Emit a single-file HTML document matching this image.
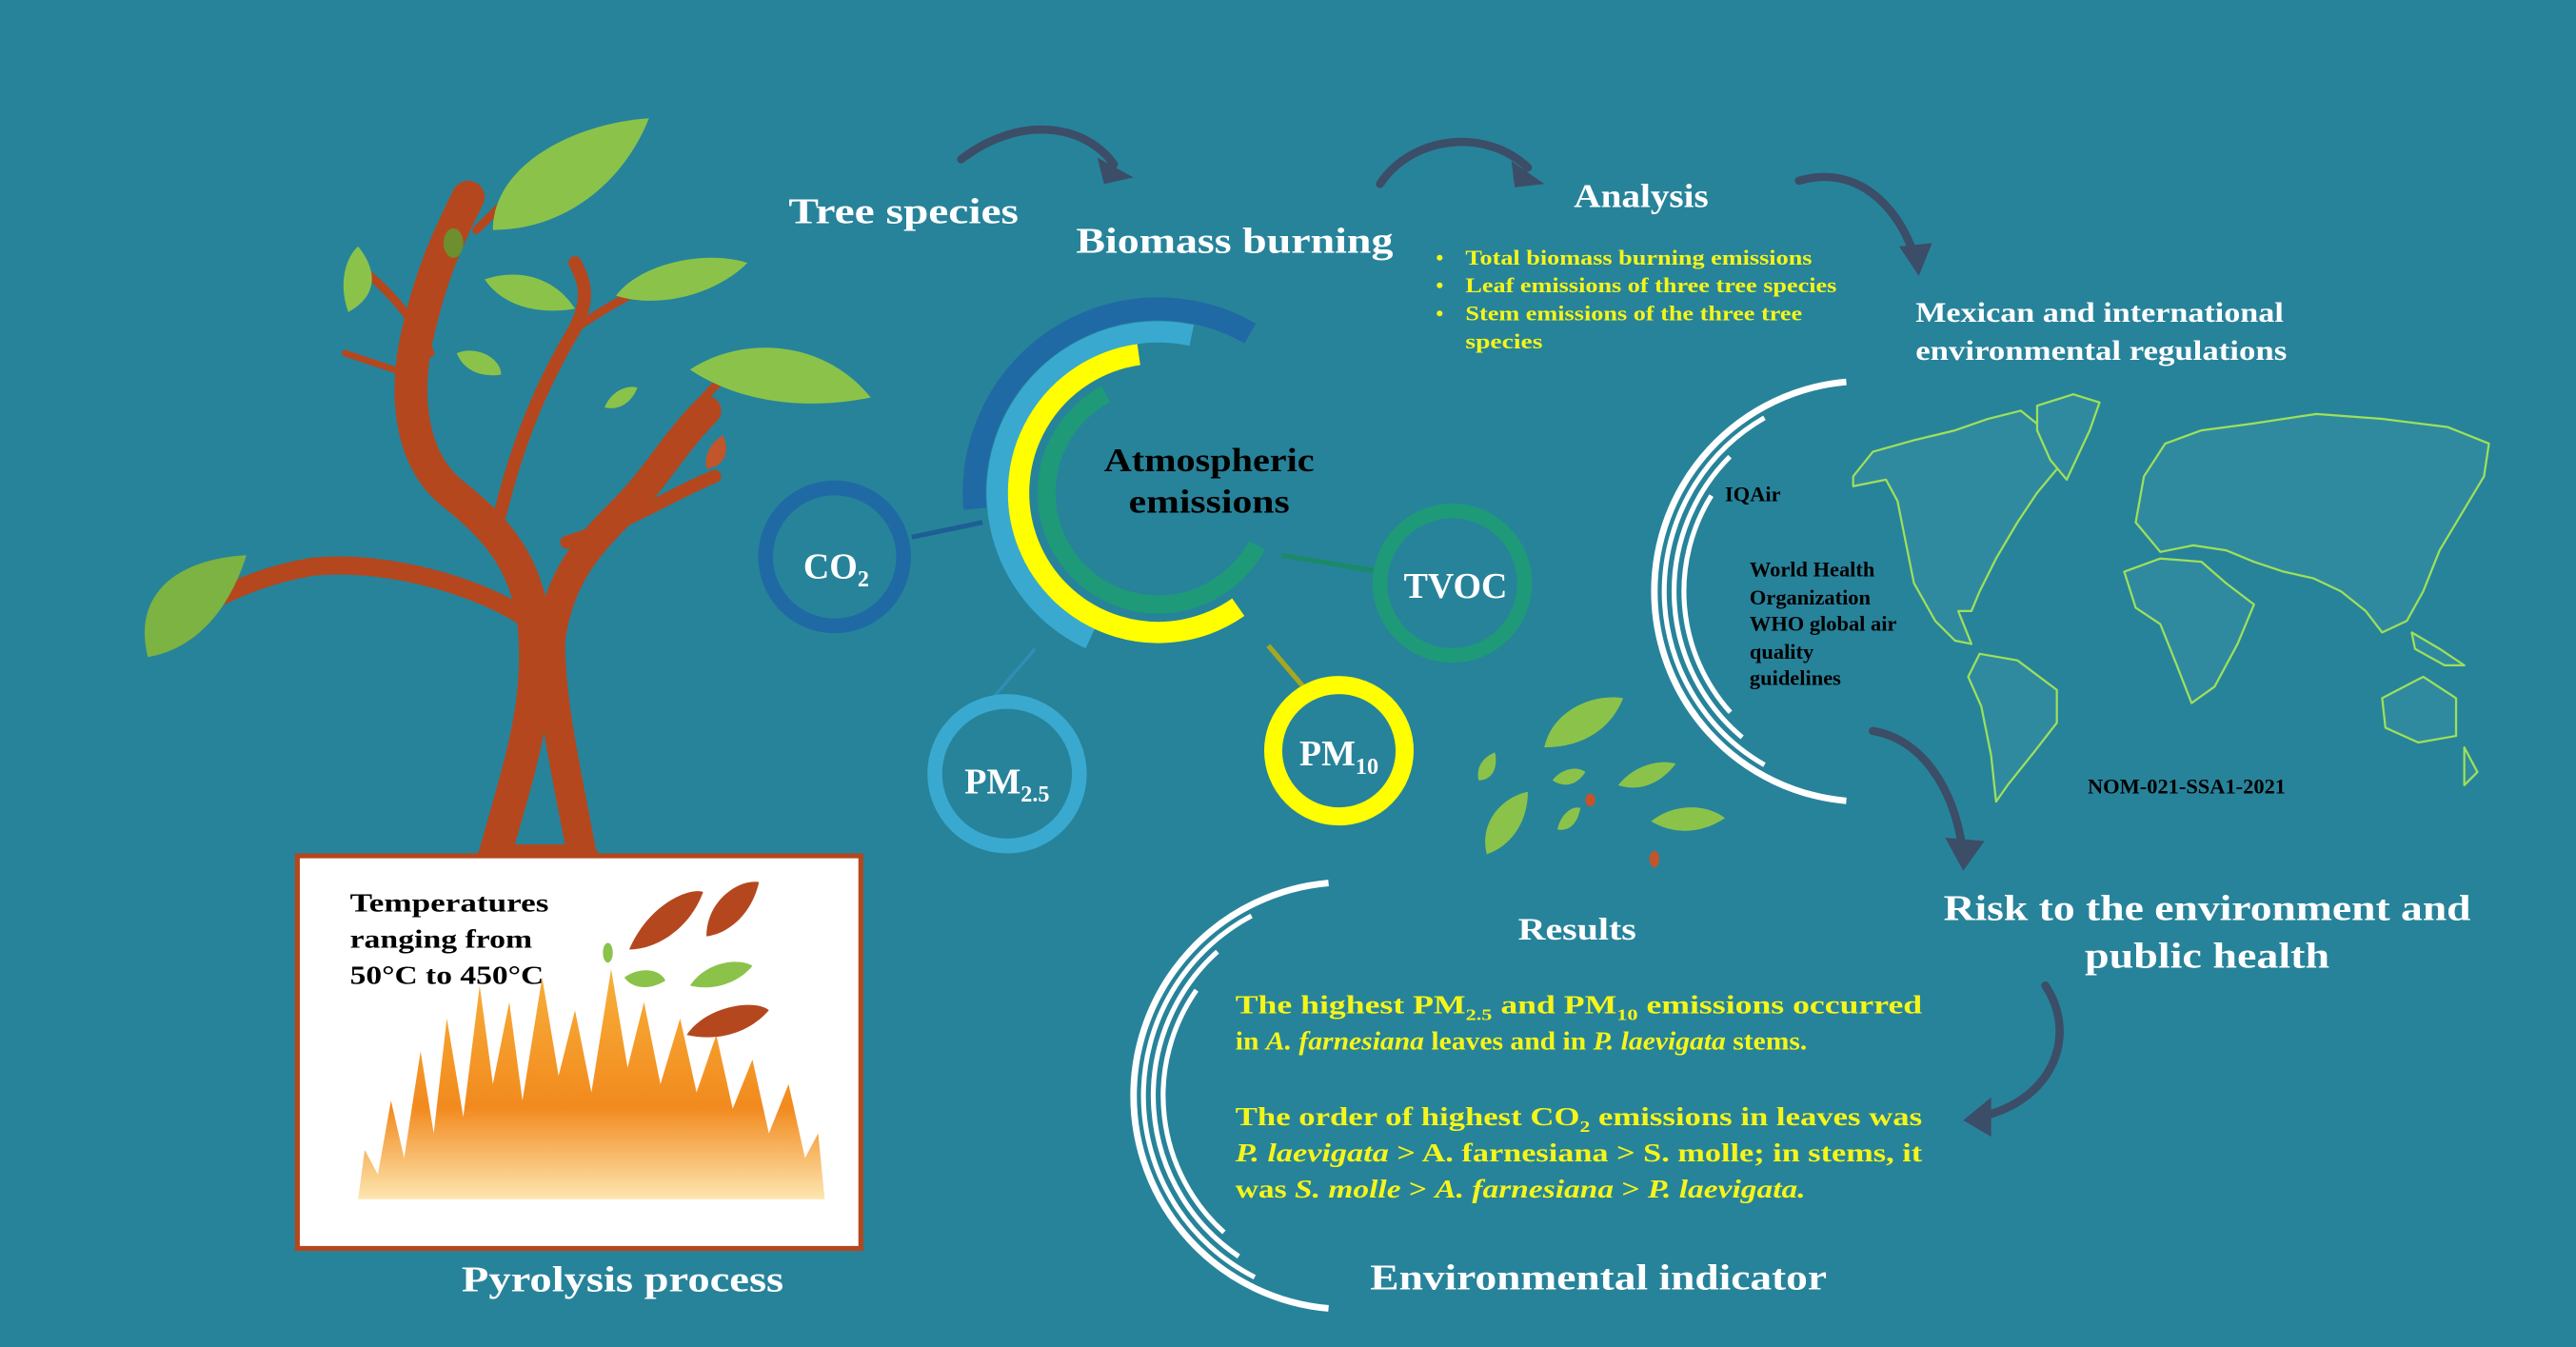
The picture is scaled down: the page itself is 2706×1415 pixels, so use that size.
<!DOCTYPE html>
<html><head><meta charset="utf-8"><style>
html,body{margin:0;padding:0;background:#27839a;}
svg{display:block;}
text{font-family:"Liberation Serif",serif;font-weight:bold;}
</style></head><body>
<svg id="s" width="2706" height="1415" viewBox="0 0 1568 820" preserveAspectRatio="none" xmlns="http://www.w3.org/2000/svg">
<defs>
<linearGradient id="fl" x1="0" y1="0" x2="0" y2="1">
<stop offset="0" stop-color="#f7b03a"/><stop offset="0.6" stop-color="#f28a1e"/><stop offset="1" stop-color="#fde6b0"/>
</linearGradient>
</defs>
<rect width="1568" height="820" fill="#27839a"/>

<g stroke="#b5471e" fill="none" stroke-linecap="round">
<path d="M300 525 C315 470 330 430 325 380 C320 340 300 320 275 300 C250 280 245 240 255 200 C262 170 270 150 285 120" stroke-width="20"/>
<path d="M355 525 C345 470 335 430 335 390 C340 350 360 330 380 310 C400 290 410 270 430 250" stroke-width="18"/>
<path d="M325 380 C300 360 240 340 190 345 C160 350 140 360 120 370" stroke-width="11"/>
<path d="M300 330 C310 290 320 250 350 200 C360 180 355 170 350 160" stroke-width="8"/>
<path d="M350 200 C380 180 400 170 420 165" stroke-width="5"/>
<path d="M262 215 C250 190 230 170 215 160" stroke-width="5"/>
<path d="M290 140 C310 120 330 100 345 90" stroke-width="5"/>
<path d="M345 330 C380 320 410 300 435 290" stroke-width="8"/>
<path d="M255 230 C240 225 225 220 210 215" stroke-width="4"/>
<path d="M380 305 C395 290 410 260 440 230" stroke-width="5"/>
<path d="M300 525 L355 525" stroke-width="22"/>
</g>
<g fill="#8bc34a">
<path d="M300 140 C300 100 350 75 395 72 C380 110 345 140 300 140Z"/>
<path d="M90 400 C80 360 110 340 150 338 C140 370 120 395 90 400Z" fill="#7cb342"/>
<path d="M420 225 C450 205 500 205 530 242 C490 250 450 245 420 225Z"/>
<path d="M375 180 C390 160 430 152 455 160 C435 180 400 188 375 180Z"/>
<path d="M295 170 C320 162 340 172 350 188 C325 192 305 185 295 170Z"/>
<path d="M212 190 C205 170 212 155 218 150 C230 165 230 180 212 190Z"/>
<path d="M278 215 C290 210 305 218 305 228 C292 230 282 225 278 215Z"/>
<path d="M368 248 C372 238 382 234 388 236 C384 246 376 250 368 248Z"/>
<ellipse cx="276" cy="148" rx="6" ry="9" fill="#6d8f2e"/>
</g>
<path d="M430 285 C428 275 435 268 440 265 C445 275 440 285 430 285Z" fill="#c2552a"/>

<rect x="181" y="521" width="343" height="239" fill="#fff" stroke="#b5471e" stroke-width="3"/>
<path d="M218 730 L222 700 L230 715 L238 670 L246 705 L256 640 L264 690 L272 620 L282 680 L292 600 L300 660 L310 610 L318 670 L330 595 L340 655 L350 615 L360 665 L372 590 L382 650 L392 610 L402 660 L414 620 L424 665 L436 630 L446 675 L458 645 L468 690 L480 660 L490 705 L498 690 L502 730 Z" fill="url(#fl)"/>
<g fill="#b5471e">
<path d="M383 578 C395 550 420 540 428 543 C420 565 400 578 383 578Z"/>
<path d="M430 570 C430 548 450 535 462 537 C458 555 445 568 430 570Z"/>
<path d="M418 630 C430 612 460 608 468 615 C455 630 435 634 418 630Z"/>
</g>
<g fill="#8bc34a">
<path d="M420 600 C430 585 450 583 458 588 C448 600 432 603 420 600Z"/>
<path d="M380 595 C390 588 402 590 405 597 C395 603 385 602 380 595Z"/>
<ellipse cx="370" cy="580" rx="3" ry="6"/>
</g>
<g font-size="16" fill="#000">
<text x="213" y="555" textLength="121" lengthAdjust="spacingAndGlyphs">Temperatures</text>
<text x="213" y="577" textLength="111" lengthAdjust="spacingAndGlyphs">ranging from</text>
<text x="213" y="599" textLength="118" lengthAdjust="spacingAndGlyphs">50°C to 450°C</text>
</g>
<text x="281" y="786" font-size="22" fill="#fff" textLength="196" lengthAdjust="spacingAndGlyphs">Pyrolysis process</text>

<text x="480" y="136" font-size="22" fill="#fff" textLength="140" lengthAdjust="spacingAndGlyphs">Tree species</text>
<text x="655" y="154" font-size="22" fill="#fff" textLength="193" lengthAdjust="spacingAndGlyphs">Biomass burning</text>
<text x="958" y="126" font-size="20" fill="#fff" textLength="82" lengthAdjust="spacingAndGlyphs">Analysis</text>
<g font-size="13" fill="#f5f51a">
<text x="874" y="161">•</text><text x="892" y="161" textLength="211" lengthAdjust="spacingAndGlyphs">Total biomass burning emissions</text>
<text x="874" y="178">•</text><text x="892" y="178" textLength="226" lengthAdjust="spacingAndGlyphs">Leaf emissions of three tree species</text>
<text x="874" y="195">•</text><text x="892" y="195" textLength="205" lengthAdjust="spacingAndGlyphs">Stem emissions of the three tree</text>
<text x="892" y="212" textLength="47" lengthAdjust="spacingAndGlyphs">species</text>
</g>
<text x="1166" y="196" font-size="17" fill="#fff" textLength="224" lengthAdjust="spacingAndGlyphs">Mexican and international</text>
<text x="1166" y="219" font-size="17" fill="#fff" textLength="226" lengthAdjust="spacingAndGlyphs">environmental regulations</text>

<g stroke="#3c4d68" stroke-width="5" fill="none" stroke-linecap="round">
<path d="M585 97 C620 70 660 75 678 100"/>
<path d="M840 112 C860 82 905 78 930 102"/>
<path d="M1095 110 C1130 100 1155 125 1165 155"/>
<path d="M1140 445 C1170 450 1190 480 1195 520"/>
<path d="M1245 600 C1265 630 1250 670 1205 680"/>
</g>
<g fill="#3c4d68">
<path d="M668 96 L690 108 L672 112Z"/>
<path d="M920 98 L940 112 L922 114Z"/>
<path d="M1156 150 L1168 168 L1176 148Z"/>
<path d="M1184 510 L1195 530 L1208 512Z"/>
<path d="M1212 668 L1195 682 L1212 692Z"/>
</g>

<g id="arcs" fill="none"></g>
<g fill="none">
<line x1="555" y1="327" x2="598" y2="318" stroke="#1d5f95" stroke-width="3"/>
<line x1="630" y1="395" x2="600" y2="430" stroke="#2e8fb3" stroke-width="2"/>
<line x1="772" y1="393" x2="795" y2="420" stroke="#a6a820" stroke-width="3"/>
<line x1="780" y1="338" x2="840" y2="348" stroke="#1a8a6a" stroke-width="3"/>
<circle cx="508" cy="339" r="42" stroke="#1f6aa5" stroke-width="9"/>
<circle cx="613" cy="471" r="44" stroke="#39a9d0" stroke-width="9"/>
<circle cx="815" cy="457" r="40" stroke="#ffff00" stroke-width="11"/>
<circle cx="884" cy="355" r="44" stroke="#1e9a78" stroke-width="9"/>
</g>
<text x="672" y="287" font-size="20" fill="#000" textLength="128" lengthAdjust="spacingAndGlyphs">Atmospheric</text>
<text x="687" y="312" font-size="20" fill="#000" textLength="98" lengthAdjust="spacingAndGlyphs">emissions</text>
<text x="509" y="352" font-size="22" fill="#fff" text-anchor="middle">CO<tspan font-size="14" dy="5">2</tspan></text>
<text x="613" y="483" font-size="22" fill="#fff" text-anchor="middle">PM<tspan font-size="14" dy="5">2.5</tspan></text>
<text x="815" y="466" font-size="22" fill="#fff" text-anchor="middle">PM<tspan font-size="14" dy="5">10</tspan></text>
<text x="886" y="364" font-size="22" fill="#fff" text-anchor="middle">TVOC</text>

<g fill="#2f8aa0" stroke="#9ee05a" stroke-width="1.3" stroke-linejoin="round">
<path d="M1128 290 L1140 275 L1165 268 L1190 262 L1210 255 L1230 250 L1245 262 L1255 282 L1240 300 L1228 318 L1215 340 L1205 360 L1200 372 L1192 372 L1200 392 L1190 390 L1178 378 L1165 355 L1160 330 L1155 305 L1148 292 L1128 296 Z"/>
<path d="M1240 247 L1262 240 L1278 245 L1272 262 L1258 292 L1248 280 L1240 262 Z"/>
<path d="M1205 398 L1228 402 L1252 420 L1252 440 L1238 458 L1222 478 L1215 488 L1212 460 L1206 430 L1198 412 Z"/>
<path d="M1300 318 L1305 290 L1318 270 L1340 262 L1370 258 L1410 252 L1450 255 L1490 260 L1515 270 L1512 290 L1500 310 L1485 335 L1475 360 L1465 378 L1450 385 L1440 372 L1425 360 L1408 352 L1390 348 L1372 342 L1355 335 L1335 332 L1315 336 Z"/>
<path d="M1293 348 L1315 340 L1340 342 L1355 355 L1372 368 L1362 392 L1348 418 L1334 428 L1325 405 L1315 380 L1300 370 Z"/>
<path d="M1450 425 L1475 412 L1495 425 L1495 448 L1472 452 L1452 443 Z"/>
<path d="M1500 455 L1508 470 L1500 478 Z"/>
<path d="M1468 385 L1485 395 L1500 405 L1488 405 L1470 395 Z"/>
</g>

<g id="warcs" fill="none" stroke="#fff" stroke-linecap="butt"></g>

<text x="1050" y="305" font-size="13" fill="#000">IQAir</text>
<g font-size="13" fill="#000">
<text x="1065" y="351">World Health</text>
<text x="1065" y="368">Organization</text>
<text x="1065" y="384">WHO global air</text>
<text x="1065" y="401">quality</text>
<text x="1065" y="417">guidelines</text>
</g>
<text x="1331" y="483" font-size="13" fill="#000" text-anchor="middle">NOM-021-SSA1-2021</text>

<g fill="#8bc34a">
<path d="M940 455 C945 432 970 422 988 425 C980 445 962 455 940 455Z"/>
<path d="M985 478 C995 465 1012 462 1020 465 C1010 478 997 482 985 478Z"/>
<path d="M1005 500 C1020 488 1040 490 1050 498 C1035 508 1018 508 1005 500Z"/>
<path d="M905 520 C900 500 915 485 930 482 C930 500 920 515 905 520Z"/>
<path d="M945 475 C950 468 960 466 965 470 C960 478 952 480 945 475Z"/>
<path d="M900 475 C898 465 905 460 910 458 C912 468 908 475 900 475Z"/>
<path d="M948 505 C950 495 958 490 962 492 C960 502 955 506 948 505Z"/>
</g>
<ellipse cx="968" cy="487" rx="3" ry="4" fill="#c2552a"/>
<ellipse cx="1007" cy="523" rx="3" ry="5" fill="#c2552a"/>

<text x="1183" y="560" font-size="22" fill="#fff" textLength="321" lengthAdjust="spacingAndGlyphs">Risk to the environment and</text>
<text x="1269" y="589" font-size="22" fill="#fff" textLength="149" lengthAdjust="spacingAndGlyphs">public health</text>

<text x="924" y="572" font-size="19" fill="#fff" textLength="72" lengthAdjust="spacingAndGlyphs">Results</text>
<g font-size="16" fill="#f5f51a">
<text x="752" y="617" textLength="418" lengthAdjust="spacingAndGlyphs">The highest PM<tspan font-size="10" dy="4">2.5</tspan><tspan dy="-4"> and PM</tspan><tspan font-size="10" dy="4">10</tspan><tspan dy="-4"> emissions occurred</tspan></text>
<text x="752" y="639" textLength="348" lengthAdjust="spacingAndGlyphs">in <tspan font-style="italic">A. farnesiana</tspan> leaves and in <tspan font-style="italic">P. laevigata</tspan> stems.</text>
<text x="752" y="685" textLength="418" lengthAdjust="spacingAndGlyphs">The order of highest CO<tspan font-size="10" dy="4">2</tspan><tspan dy="-4"> emissions in leaves was</tspan></text>
<text x="752" y="707" textLength="418" lengthAdjust="spacingAndGlyphs"><tspan font-style="italic">P. laevigata</tspan> &gt; A. farnesiana &gt; S. molle; in stems, it</text>
<text x="752" y="729" textLength="347" lengthAdjust="spacingAndGlyphs">was <tspan font-style="italic">S. molle</tspan> &gt; <tspan font-style="italic">A. farnesiana</tspan> &gt; <tspan font-style="italic">P. laevigata.</tspan></text>
</g>
<text x="834" y="785" font-size="22" fill="#fff" textLength="278" lengthAdjust="spacingAndGlyphs">Environmental indicator</text>
</svg>
<script>
function arc(cx,cy,r,a1,a2){
 var p=Math.PI/180;
 var x1=cx+r*Math.cos(a1*p),y1=cy+r*Math.sin(a1*p),x2=cx+r*Math.cos(a2*p),y2=cy+r*Math.sin(a2*p);
 var large=Math.abs(a2-a1)>180?1:0;
 return "M"+x1+" "+y1+" A"+r+" "+r+" 0 "+large+" 0 "+x2+" "+y2;
}
var ns="http://www.w3.org/2000/svg";
function add(g,d,c,w){var e=document.createElementNS(ns,"path");e.setAttribute("d",d);e.setAttribute("stroke",c);e.setAttribute("stroke-width",w);e.setAttribute("fill","none");g.appendChild(e);}
var g=document.getElementById("arcs");
add(g,arc(705,300,112,-60,-185),"#1f6aa5",14);
add(g,arc(705,300,98,-78,-245),"#39a9d0",13);
add(g,arc(705,300,85,-98,-305),"#ffff00",13);
add(g,arc(705,300,68,-118,-332),"#1e9a78",11);
var w=document.getElementById("warcs");
add(w,arc(1135,360,128,-95,-265),"#fff",4);
add(w,arc(1135,360,122,-120,-240),"#fff",3);
add(w,arc(1135,360,116,-135,-230),"#fff",3);
add(w,arc(1135,360,110,-148,-222),"#fff",3);
add(w,arc(820,667,130,-95,-265),"#fff",4);
add(w,arc(820,667,124,-118,-243),"#fff",3);
add(w,arc(820,667,118,-132,-236),"#fff",3);
add(w,arc(820,667,112,-145,-228),"#fff",3);
</script>
</body></html>
